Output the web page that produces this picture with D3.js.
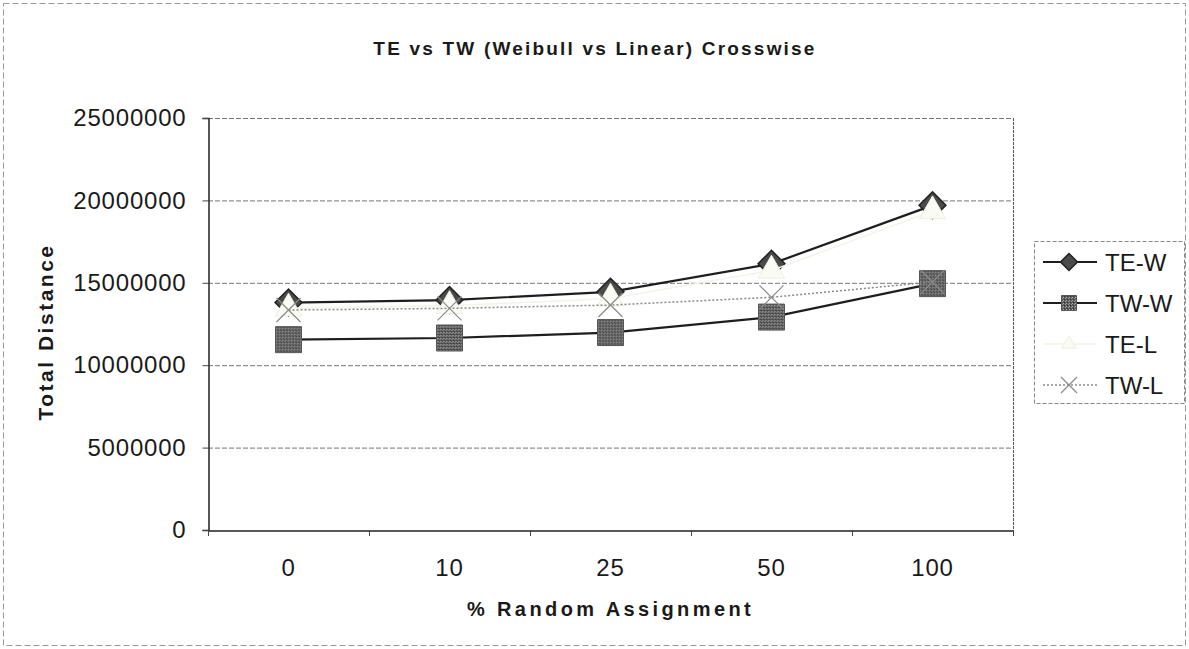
<!DOCTYPE html>
<html>
<head>
<meta charset="utf-8">
<script src="https://cdn.jsdelivr.net/npm/d3@7"></script>
<style>
  body { margin: 0; background: #fff; }
  svg { display: block; }
  text { font-family: Arial, "Liberation Sans", sans-serif; fill: #1a1a1a; }
</style>
</head>
<body>
<svg id="chart" width="1189" height="649"></svg>
<script>
// Categories (% random assignment) and the four series of total distance
const categories = ["0", "10", "25", "50", "100"];
const teW = [13800000, 13950000, 14450000, 16150000, 19700000];
const twW = [11550000, 11650000, 11980000, 12920000, 14950000];
const teL = [13450000, 13600000, 14050000, 15750000, 19350000];
const twL = [13350000, 13450000, 13650000, 14120000, 15050000];
const yTicks = [0, 5000000, 10000000, 15000000, 20000000, 25000000];
const seriesNames = ["TE-W", "TW-W", "TE-L", "TW-L"];

const svg = d3.select("#chart");
const W = 1189, H = 649;
const plot = { left: 208, right: 1013, top: 118, bottom: 530 };

// halftone-like texture for the square markers
const defs = svg.append("defs");
const pat = defs.append("pattern").attr("id", "dots")
  .attr("width", 3).attr("height", 3).attr("patternUnits", "userSpaceOnUse");
pat.append("rect").attr("width", 3).attr("height", 3).attr("fill", "#5a5a5a");
pat.append("rect").attr("x", 0).attr("y", 0).attr("width", 1).attr("height", 1).attr("fill", "#b0b0b0");
pat.append("rect").attr("x", 2).attr("y", 1).attr("width", 1).attr("height", 1).attr("fill", "#9a9a9a");
pat.append("rect").attr("x", 1).attr("y", 2).attr("width", 1).attr("height", 1).attr("fill", "#333");

// chart-area frame
svg.append("rect").attr("x", 3.5).attr("y", 3.5).attr("width", W - 7).attr("height", H - 7)
  .attr("fill", "none").attr("stroke", "#999").attr("stroke-dasharray", "6,3");

const x = d3.scaleBand().domain(categories).range([plot.left, plot.right]);
const y = d3.scaleLinear().domain([0, 25000000]).range([plot.bottom, plot.top]);
const cx = c => x(c) + x.bandwidth() / 2;

// gridlines
svg.append("g").selectAll("line").data(yTicks.filter(v => v > 0)).join("line")
  .attr("x1", plot.left).attr("x2", plot.right)
  .attr("y1", d => y(d) + 0.5).attr("y2", d => y(d) + 0.5)
  .attr("stroke", "#777").attr("stroke-width", 1).attr("stroke-dasharray", "5,2");

// right border of the plot area
svg.append("line").attr("x1", plot.right + 0.5).attr("x2", plot.right + 0.5)
  .attr("y1", plot.top).attr("y2", plot.bottom)
  .attr("stroke", "#555").attr("stroke-dasharray", "3,1");

// y axis
const yAxis = svg.append("g").attr("transform", `translate(${plot.left + 0.5},0)`)
  .call(d3.axisLeft(y).tickValues(yTicks).tickFormat(d3.format("d")).tickSize(6).tickPadding(16));
yAxis.select(".domain").attr("stroke", "#222").attr("stroke-width", 1.5);
yAxis.selectAll(".tick line").attr("stroke", "#444");
yAxis.selectAll("text").attr("font-size", 24).attr("fill", "#1a1a1a").attr("letter-spacing", 0.8)
  .style("font-family", "Arial, 'Liberation Sans', sans-serif");

// x axis: labels centred in each category, ticks on the category boundaries
const xAxis = svg.append("g").attr("transform", `translate(0,${plot.bottom + 0.5})`)
  .call(d3.axisBottom(x).tickSize(0).tickPadding(28));
xAxis.select(".domain").attr("stroke", "#222").attr("stroke-width", 1.5);
xAxis.selectAll("text").attr("font-size", 24).attr("fill", "#1a1a1a").attr("letter-spacing", 0.8)
  .style("font-family", "Arial, 'Liberation Sans', sans-serif");
const bounds = categories.map(c => x(c)).concat([x(categories[categories.length - 1]) + x.bandwidth()]);
svg.append("g").selectAll("line").data(bounds).join("line")
  .attr("x1", d => d + 0.5).attr("x2", d => d + 0.5)
  .attr("y1", plot.bottom).attr("y2", plot.bottom + 6)
  .attr("stroke", "#444");

// titles
svg.append("text").attr("x", 595).attr("y", 55).attr("text-anchor", "middle")
  .attr("font-size", 19).attr("font-weight", "bold").attr("letter-spacing", 2.2)
  .text("TE vs TW (Weibull vs Linear) Crosswise");
svg.append("text").attr("x", (plot.left + plot.right) / 2).attr("y", 616).attr("text-anchor", "middle")
  .attr("font-size", 20).attr("font-weight", "bold").attr("letter-spacing", 3.4)
  .text("% Random Assignment");
svg.append("text").attr("transform", `translate(53,${(plot.top + plot.bottom) / 2 + 8}) rotate(-90)`)
  .attr("text-anchor", "middle").attr("font-size", 21).attr("font-weight", "bold").attr("letter-spacing", 2.5)
  .text("Total Distance");

// marker shapes
const diamondPath = s => d3.symbol().type(d3.symbolSquare).size(s * s)();
const squarePath = s => d3.symbol().type(d3.symbolSquare).size(s * s)();
const trianglePath = s => d3.symbol().type(d3.symbolTriangle).size(s)();
const xPath = r => `M${-r},${-r}L${r},${r}M${-r},${r}L${r},${-r}`;

const series = [
  { name: seriesNames[0], values: teW, line: "#1e1e1e", width: 2.2, dash: null,
    marker: (g, s) => g.append("path").attr("d", diamondPath(s)).attr("transform", "rotate(45)")
      .attr("fill", "#4a4a4a").attr("stroke", "#222").attr("stroke-width", 1.5), size: 19, lsize: 12 },
  { name: seriesNames[1], values: twW, line: "#1e1e1e", width: 2.2, dash: null,
    marker: (g, s) => g.append("path").attr("d", squarePath(s))
      .attr("fill", "url(#dots)").attr("stroke", "#555").attr("stroke-width", 1), size: 26, lsize: 15 },
  { name: seriesNames[2], values: teL, line: "#f3f3ea", width: 1.5, dash: null,
    marker: (g, s) => g.append("path").attr("d", trianglePath(s))
      .attr("fill", "#fbfbf6").attr("stroke", "#eeeee2").attr("stroke-width", 1), size: 300, lsize: 90 },
  { name: seriesNames[3], values: twL, line: "#8a8a8a", width: 1.5, dash: "2,2",
    marker: (g, s) => g.append("path").attr("d", xPath(s))
      .attr("fill", "none").attr("stroke", "#8a8a8a").attr("stroke-width", 1.2), size: 12, lsize: 8 }
];

const line = d3.line().x((d, i) => cx(categories[i])).y(d => y(d));

series.forEach(s => {
  const g = svg.append("g");
  g.append("path").attr("d", line(s.values)).attr("fill", "none")
    .attr("stroke", s.line).attr("stroke-width", s.width)
    .attr("stroke-dasharray", s.dash);
  s.values.forEach((v, i) => {
    const m = g.append("g").attr("transform", `translate(${cx(categories[i])},${y(v)})`);
    s.marker(m, s.size);
  });
});

// legend
const lg = svg.append("g");
lg.append("rect").attr("x", 1034.5).attr("y", 241.5).attr("width", 150).attr("height", 162)
  .attr("fill", "#fff").attr("stroke", "#888").attr("stroke-dasharray", "4,2");
const rowY = [262, 303, 344, 385];
series.forEach((s, i) => {
  const yy = rowY[i];
  lg.append("line").attr("x1", 1043).attr("x2", 1097).attr("y1", yy).attr("y2", yy)
    .attr("stroke", s.line).attr("stroke-width", s.width).attr("stroke-dasharray", s.dash);
  const m = lg.append("g").attr("transform", `translate(1069,${yy})`);
  s.marker(m, s.lsize);
  lg.append("text").attr("x", 1105).attr("y", yy).attr("dy", "0.36em")
    .attr("font-size", 24).text(s.name);
});
</script>
</body>
</html>
